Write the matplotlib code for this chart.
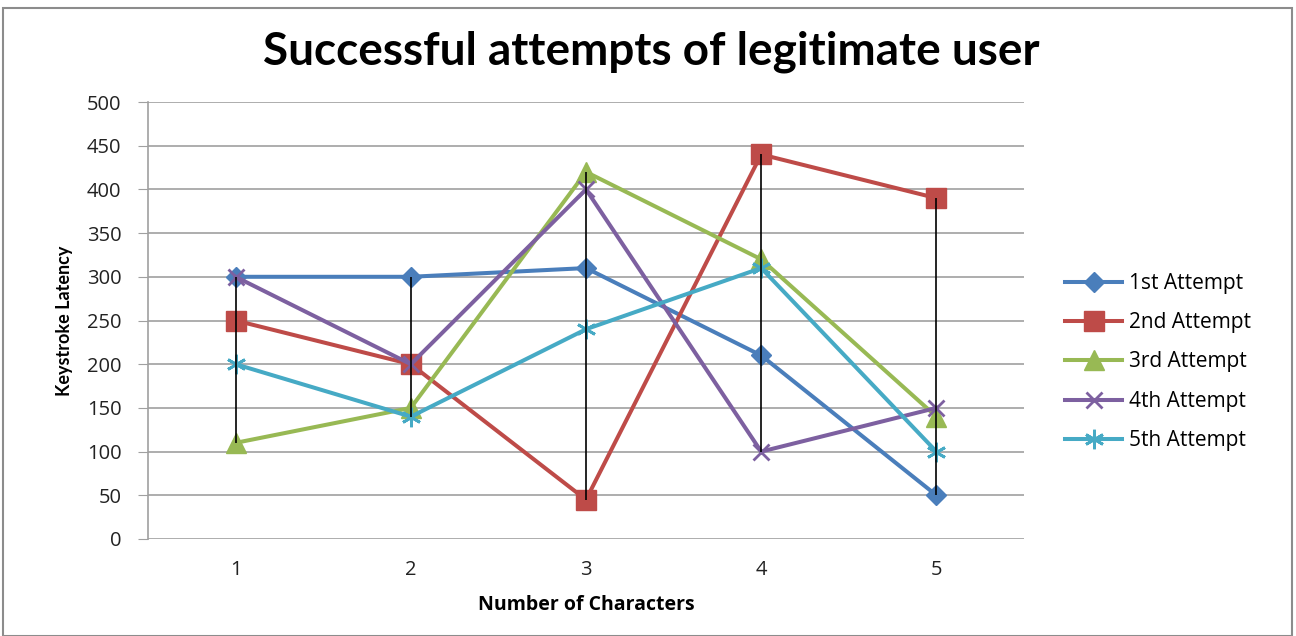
import matplotlib
matplotlib.use("Agg")
import matplotlib.pyplot as plt
from matplotlib.patches import Rectangle
import numpy as np

plt.rcParams['font.family'] = ['Open Sans', 'DejaVu Sans']

characters = [1, 2, 3, 4, 5]
series_names = ["1st Attempt", "2nd Attempt", "3rd Attempt", "4th Attempt", "5th Attempt"]
attempt_1 = [300, 300, 310, 210, 50]
attempt_2 = [250, 200, 45, 440, 390]
attempt_3 = [110, 150, 420, 320, 140]
attempt_4 = [300, 200, 400, 100, 150]
attempt_5 = [200, 140, 240, 310, 100]
y_ticks = [0, 50, 100, 150, 200, 250, 300, 350, 400, 450, 500]

colors = ["#4A7EBB", "#BE4B48", "#98B954", "#7D60A0", "#46AAC5"]
markers = ["D", "s", "^", "x", (6, 2, 0)]
msizes = [10, 14.5, 14.5, 12, 14]

fig = plt.figure(figsize=(12.96, 6.36), dpi=100)
ax = fig.add_axes([148 / 1296, 1 - 539 / 636, 876 / 1296, 437 / 636])

data = [attempt_1, attempt_2, attempt_3, attempt_4, attempt_5]
arr = np.array(data)

# high-low lines at each category
ax.vlines(characters, arr.min(axis=0), arr.max(axis=0), color="black", lw=1.2, zorder=4)

for vals, name, c, m, ms in zip(data, series_names, colors, markers, msizes):
    mew = 2 if m in ("x", (6, 2, 0)) else 1
    ax.plot(characters, vals, color=c, lw=2.9, marker=m, markersize=ms,
            markeredgewidth=mew, markeredgecolor=c, markerfacecolor=c,
            label=name, zorder=3)

ax.set_xlim(0.5, 5.5)
ax.set_ylim(0, 500)
ax.set_yticks(y_ticks)
ax.set_xticks(characters)
ax.yaxis.grid(True, color="#A0A0A0", lw=1.2)
ax.set_axisbelow(True)
for side in ("top", "right", "bottom"):
    ax.spines[side].set_visible(False)
ax.spines["left"].set_color("#A0A0A0")
ax.spines["left"].set_linewidth(1.2)
ax.tick_params(axis="y", length=7, color="#A0A0A0", labelsize=14.5, pad=12,
               labelcolor="#222222")
ax.tick_params(axis="x", length=0, labelsize=14.5, pad=15, labelcolor="#222222")

ax.set_xlabel("Number of Characters", fontsize=14, fontweight="bold", labelpad=11)
ax.set_ylabel("Keystroke Latency", fontsize=13, fontweight="bold", labelpad=10,
              family=["Lato", "DejaVu Sans"])

fig.text(651 / 1296, 1 - 52 / 636, "Successful attempts of legitimate user",
         ha="center", va="center", fontsize=33, fontweight="bold",
         family=["Lato", "DejaVu Sans"])

leg = ax.legend(loc="center left", bbox_to_anchor=((1065 - 148) / 876, (539 - 362) / 437),
                frameon=False, fontsize=15, handlelength=2.75, labelspacing=0.88,
                handletextpad=0.3, borderpad=0, borderaxespad=0)

fig.patches.append(Rectangle((3 / 1296, 0), 1289 / 1296, 1 - 8 / 636,
                             transform=fig.transFigure, fill=False,
                             edgecolor="#8C8C8C", lw=1.5))

fig.savefig("out.png", dpi=100)
